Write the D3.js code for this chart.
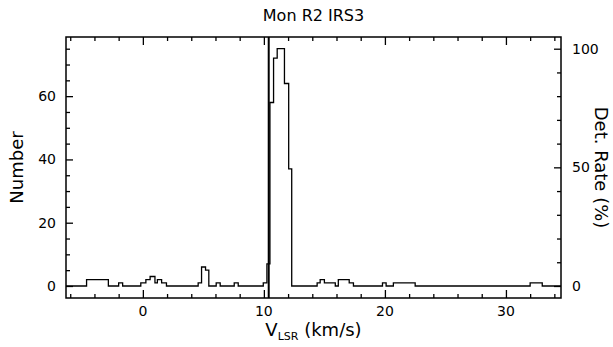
<!DOCTYPE html>
<html>
<head>
<meta charset="utf-8">
<script src="https://cdn.jsdelivr.net/npm/d3@7"></script>
<style>
  body { margin: 0; background: #fff; }
  svg { display: block; }
  text { font-family: "DejaVu Sans", "Liberation Sans", sans-serif; fill: #000; }
</style>
</head>
<body>
<div id="chart"></div>
<script>
// histogram as a step function: counts[i] holds between edges[i] and edges[i+1] (km/s)
const edges = [-6.35, -4.65, -2.85, -2.0, -1.67, -0.17, 0.25, 0.6, 1.0, 1.2, 1.55, 1.95,
  4.57, 4.85, 5.18, 5.45, 6.06, 6.39, 7.55, 7.88, 9.95, 10.25, 10.5, 10.8, 11.1, 11.7,
  12.05, 12.3, 14.4, 14.65, 15.0, 15.9, 16.15, 17.05, 17.4, 19.8, 20.1, 20.7, 22.5,
  32.0, 33.0, 34.55];
const counts = [0, 2, 0, 1, 0, 1, 2, 3, 1, 2, 1,
  0, 1, 6, 5, 0, 1, 0, 1,
  0, 1, 7, 58, 72, 75, 64,
  37, 0, 1, 2, 1, 0, 2, 1,
  0, 1, 0, 1, 0,
  1, 0];
const vSource = 10.4;      // vertical marker
const maxCount = 75;       // 100 % detection rate

const xMajor = [0, 10, 20, 30];
const yMajor = [0, 20, 40, 60];
const rMajor = [0, 50, 100];

const width = 613, height = 347;
const margin = { top: 37, right: 52, bottom: 49, left: 66 };

const svg = d3.select('#chart').append('svg')
  .attr('width', width)
  .attr('height', height);

const x = d3.scaleLinear().domain([-6.35, 34.55]).range([margin.left, width - margin.right]);
const y = d3.scaleLinear().domain([-3.8, 78.7]).range([height - margin.bottom, margin.top]);
const yRate = d3.scaleLinear().domain([0, 100]).range([y(0), y(maxCount)]);

const axisColor = '#000';

// frame
svg.append('rect')
  .attr('x', margin.left).attr('y', margin.top)
  .attr('width', width - margin.left - margin.right)
  .attr('height', height - margin.top - margin.bottom)
  .attr('fill', 'none').attr('stroke', axisColor).attr('stroke-width', 1.5);

// inward ticks, major and minor drawn separately
function ticks(axisFn, scale, values, len, transform, labels) {
  const g = svg.append('g')
    .attr('transform', transform)
    .call(axisFn(scale).tickValues(values).tickSizeInner(-len).tickSizeOuter(0)
      .tickPadding(labels ? len + 6 : 0).tickFormat(labels ? d3.format('d') : ''));
  g.select('.domain').remove();
  g.selectAll('line').attr('stroke', axisColor).attr('stroke-width', 1.3);
  g.selectAll('text').attr('font-size', 14).attr('font-family', null);
  return g;
}

const xMinor = d3.range(-6, 35, 2).filter(v => !xMajor.includes(v));
const yMinor = d3.range(0, 80, 5).filter(v => !yMajor.includes(v));
const rMinor = d3.range(0, 101, 10).filter(v => !rMajor.includes(v));

const bottomY = height - margin.bottom, rightX = width - margin.right;

const bx = ticks(d3.axisBottom, x, xMajor, 8, `translate(0,${bottomY})`, false);
ticks(d3.axisBottom, x, xMinor, 4, `translate(0,${bottomY})`, false);
ticks(d3.axisTop, x, xMajor, 8, `translate(0,${margin.top})`, false);
ticks(d3.axisTop, x, xMinor, 4, `translate(0,${margin.top})`, false);
ticks(d3.axisLeft, y, yMajor, 7, `translate(${margin.left},0)`, false);
ticks(d3.axisLeft, y, yMinor, 4, `translate(${margin.left},0)`, false);
ticks(d3.axisRight, yRate, rMajor, 7, `translate(${rightX},0)`, false);
ticks(d3.axisRight, yRate, rMinor, 4, `translate(${rightX},0)`, false);

// tick labels
svg.append('g').selectAll('text').data(xMajor).join('text')
  .attr('x', d => x(d)).attr('y', bottomY + 18)
  .attr('text-anchor', 'middle').attr('font-size', 14)
  .text(d => d);
svg.append('g').selectAll('text').data(yMajor).join('text')
  .attr('x', margin.left - 10).attr('y', d => y(d)).attr('dy', '0.36em')
  .attr('text-anchor', 'end').attr('font-size', 14)
  .text(d => d);
svg.append('g').selectAll('text').data(rMajor).join('text')
  .attr('x', rightX + 11).attr('y', d => yRate(d)).attr('dy', '0.36em')
  .attr('text-anchor', 'start').attr('font-size', 14)
  .text(d => d);

// histogram
const steps = edges.map((e, i) => [e, i < counts.length ? counts[i] : counts[counts.length - 1]]);
svg.append('path')
  .datum(steps)
  .attr('fill', 'none')
  .attr('stroke', '#000')
  .attr('stroke-width', 1.3)
  .attr('d', d3.line().x(d => x(d[0])).y(d => y(d[1])).curve(d3.curveStepAfter));

// source velocity marker
svg.append('line')
  .attr('x1', x(vSource)).attr('x2', x(vSource))
  .attr('y1', margin.top).attr('y2', bottomY)
  .attr('stroke', '#000').attr('stroke-width', 2);

// titles
svg.append('text')
  .attr('x', (margin.left + rightX) / 2).attr('y', 21)
  .attr('text-anchor', 'middle').attr('font-size', 16)
  .text('Mon R2 IRS3');

const xt = svg.append('text')
  .attr('x', (margin.left + rightX) / 2).attr('y', 336)
  .attr('text-anchor', 'middle').attr('font-size', 18);
xt.append('tspan').text('V');
xt.append('tspan').attr('font-size', 11).attr('dy', 4).text('LSR');
xt.append('tspan').attr('dy', -4).text(' (km/s)');

svg.append('text')
  .attr('transform', `translate(16,${(margin.top + bottomY) / 2}) rotate(-90)`)
  .attr('text-anchor', 'middle').attr('dominant-baseline', 'central')
  .attr('font-size', 18)
  .text('Number');

svg.append('text')
  .attr('transform', `translate(601,${(margin.top + bottomY) / 2}) rotate(90)`)
  .attr('text-anchor', 'middle').attr('dominant-baseline', 'central')
  .attr('font-size', 18)
  .text('Det. Rate (%)');
</script>
</body>
</html>
